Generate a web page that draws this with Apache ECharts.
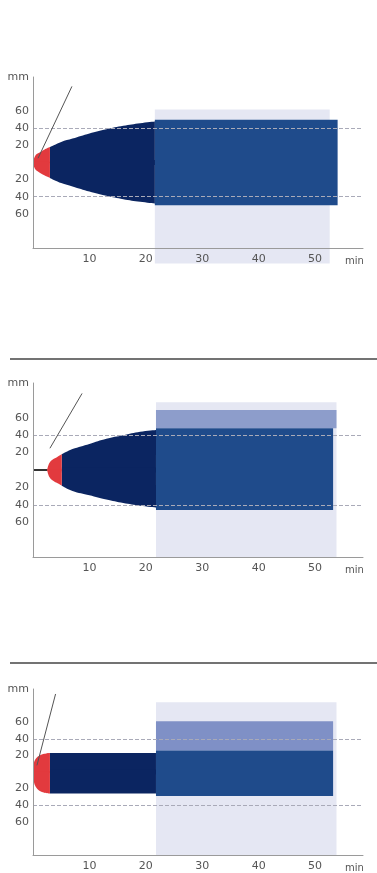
<!DOCTYPE html>
<html>
<head>
<meta charset="utf-8">
<title>Plume profiles</title>
<script src="https://cdn.jsdelivr.net/npm/echarts@6/dist/echarts.min.js"></script>
<style>
  html, body { margin: 0; padding: 0; background: #fff; }
  #main { width: 377px; height: 873px; }
</style>
</head>
<body>
<div id="main"></div>
<script>
// Axis tick labels
const xTickLabels = [10, 20, 30, 40, 50];
const yTickLabels = [60, 40, 20];
const guideLevels = [40, -40];

// Panel 1
const p1NoseX = [0, 0.4, 1, 2, 3];
const p1NoseUp = [0, 8, 11, 15, 18];
const p1NoseLow = [0, -8, -11, -15, -18];
const p1BodyX = [3, 5, 7, 10, 13, 16, 19, 21.6];
const p1BodyUp = [18, 24, 28, 34, 39, 43, 46, 48];
const p1BodyLow = [-18, -24, -28, -34, -39, -43, -46, -48];
const p1Block = [21.6, 54, -50, 50];
const p1Band = [];
const p1Haze = [21.6, 52.6, -118, 62];
const p1Pointer = [[0.9, 5], [6.9, 89]];
const p1Stub = [];

// Panel 2
const p2NoseX = [2.5, 2.9, 3.5, 4.3, 5.1];
const p2NoseUp = [0, 8, 12, 15, 18];
const p2NoseLow = [0, -8, -12, -15, -18];
const p2BodyX = [5.1, 7, 10, 13, 16, 19, 21.8];
const p2BodyUp = [18, 24, 30, 36, 40, 44, 46];
const p2BodyLow = [-18, -24, -29, -34, -38, -41, -43];
const p2Block = [21.8, 53.2, -46, 48];
const p2Band = [21.8, 53.8, 48, 69];
const p2Haze = [21.8, 53.8, -100, 78];
const p2Pointer = [[3, 25], [8.7, 88]];
const p2Stub = [[0, 0], [2.5, 0]];

// Panel 3
const p3NoseX = [0, 0.2, 0.6, 1.2, 2, 3];
const p3NoseUp = [0, 12, 17, 20, 22, 23];
const p3NoseLow = [0, -13, -19, -23, -25, -26];
const p3BodyX = [3, 8, 14, 21.8];
const p3BodyUp = [23, 23, 23, 23];
const p3BodyLow = [-26, -26, -26, -26];
const p3Block = [21.8, 53.2, -29, 26];
const p3Band = [21.8, 53.2, 26, 61];
const p3Haze = [21.8, 53.8, -100, 84];
const p3Pointer = [[0.7, 8], [4, 94]];
const p3Stub = [];

const panels = [
  { top: 77, height: 171, noseX: p1NoseX, noseUp: p1NoseUp, noseLow: p1NoseLow,
    bodyX: p1BodyX, bodyUp: p1BodyUp, bodyLow: p1BodyLow, block: p1Block, band: p1Band,
    haze: p1Haze, pointer: p1Pointer, stub: p1Stub, bandColor: '#8d9dcb' },
  { top: 383, height: 174, noseX: p2NoseX, noseUp: p2NoseUp, noseLow: p2NoseLow,
    bodyX: p2BodyX, bodyUp: p2BodyUp, bodyLow: p2BodyLow, block: p2Block, band: p2Band,
    haze: p2Haze, pointer: p2Pointer, stub: p2Stub, bandColor: '#8d9dcb' },
  { top: 689, height: 170, noseX: p3NoseX, noseUp: p3NoseUp, noseLow: p3NoseLow,
    bodyX: p3BodyX, bodyUp: p3BodyUp, bodyLow: p3BodyLow, block: p3Block, band: p3Band,
    haze: p3Haze, pointer: p3Pointer, stub: p3Stub, bandColor: '#7f90c6' }
];

const NAVY = '#0b2561';
const BLUE = '#1f4b8b';
const RED = '#e23a3e';
const HAZE = '#e5e7f3';
const FONT = 'DejaVu Sans';

function zip(xs, ys) { return xs.map((x, i) => [x, ys[i]]); }

function rectSeries(idx, box, color, z, clip) {
  return {
    type: 'custom', xAxisIndex: idx, yAxisIndex: idx, z: z, clip: clip,
    silent: true,
    data: box.length ? [box] : [],
    renderItem: function (params, api) {
      const a = api.coord([api.value(0), api.value(3)]);
      const b = api.coord([api.value(1), api.value(2)]);
      return { type: 'rect', shape: { x: a[0], y: a[1], width: b[0] - a[0], height: b[1] - a[1] },
               style: { fill: color } };
    }
  };
}

// each half is filled a little past the centre line so the halves overlap (no seam)
function areaLine(idx, data, color, z, origin) {
  return {
    type: 'line', xAxisIndex: idx, yAxisIndex: idx, z: z, silent: true,
    data: data, smooth: 0.4, symbol: 'none',
    lineStyle: { width: 0 },
    areaStyle: { color: color, opacity: 1, origin: origin }
  };
}

const grid = [], xAxis = [], yAxis = [], series = [];

panels.forEach((p, i) => {
  grid.push({ left: 33, width: 330, top: p.top, height: p.height });
  xAxis.push({
    type: 'value', gridIndex: i, min: 0, max: 58.5, interval: 10, z: 10,
    name: 'min', nameLocation: 'end', nameGap: -18,
    nameTextStyle: { color: '#555', fontFamily: FONT, fontSize: 10, verticalAlign: 'top', padding: [8, 0, 0, 0] },
    axisLine: { onZero: false, lineStyle: { color: '#9a9a9a', width: 1 } },
    axisTick: { show: false },
    splitLine: { show: false },
    axisLabel: { color: '#555', fontFamily: FONT, fontSize: 11, margin: 6,
      formatter: v => xTickLabels.includes(v) ? String(v) : '' }
  });
  yAxis.push({
    type: 'value', gridIndex: i, min: -100, max: 100, interval: 20, z: 10,
    axisLine: { show: true, onZero: false, lineStyle: { color: '#9a9a9a', width: 1 } },
    axisTick: { show: false },
    splitLine: { show: false },
    axisLabel: { color: '#555', fontFamily: FONT, fontSize: 11, margin: 4,
      formatter: v => v === 100 ? 'mm' : (v !== 0 && yTickLabels.includes(Math.abs(v)) ? String(Math.abs(v)) : '') }
  });

  const haze = rectSeries(i, p.haze, HAZE, 1, false);
  haze.markLine = {
    silent: true, symbol: 'none', label: { show: false },
    lineStyle: { type: 'dashed', color: '#a9aab8', width: 1 },
    data: guideLevels.map(v => ({ yAxis: v }))
  };
  series.push(haze);
  series.push(rectSeries(i, p.band, p.bandColor, 2, true));
  series.push(rectSeries(i, p.block, BLUE, 3, true));
  series.push(areaLine(i, zip(p.bodyX, p.bodyUp), NAVY, 4, -3));
  series.push(areaLine(i, zip(p.bodyX, p.bodyLow), NAVY, 4, 3));
  series.push(areaLine(i, zip(p.noseX, p.noseUp), RED, 5, -1));
  series.push(areaLine(i, zip(p.noseX, p.noseLow), RED, 5, 1));
  series.push({
    type: 'line', xAxisIndex: i, yAxisIndex: i, z: 6, silent: true,
    data: p.pointer, symbol: 'none', lineStyle: { color: '#555', width: 1 }
  });
  if (p.stub.length) {
    series.push({
      type: 'line', xAxisIndex: i, yAxisIndex: i, z: 6, silent: true,
      data: p.stub, symbol: 'none', lineStyle: { color: '#333', width: 2 }
    });
  }
});

const chart = echarts.init(document.getElementById('main'));
chart.setOption({
  animation: false,
  backgroundColor: '#ffffff',
  grid: grid,
  xAxis: xAxis,
  yAxis: yAxis,
  series: series,
  graphic: [
    { type: 'line', shape: { x1: 10, y1: 359, x2: 377, y2: 359 }, style: { stroke: '#444', lineWidth: 1.5 } },
    { type: 'line', shape: { x1: 10, y1: 663, x2: 377, y2: 663 }, style: { stroke: '#444', lineWidth: 1.5 } }
  ]
});
window.addEventListener('resize', () => chart.resize());
</script>
</body>
</html>
